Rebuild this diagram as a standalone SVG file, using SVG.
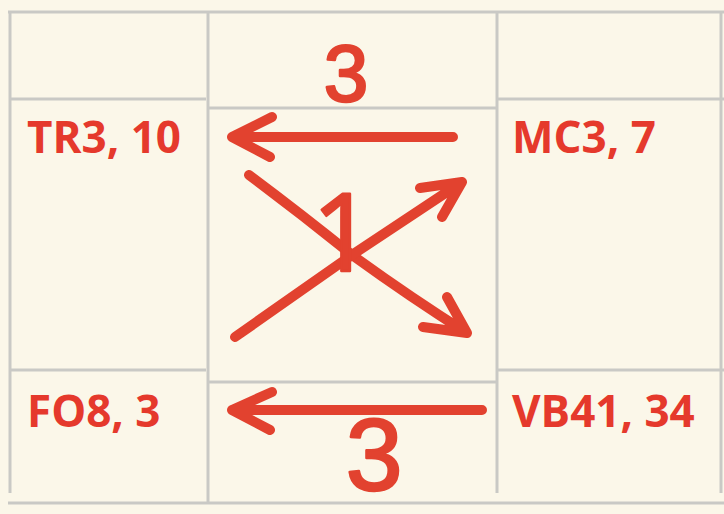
<svg xmlns="http://www.w3.org/2000/svg" width="724" height="514" viewBox="0 0 724 514">
  <style>
    .grid { stroke: #C9C9C5; stroke-width: 3; fill: none; }
    .lbl { font-family: "Open Sans", "Liberation Sans", sans-serif; font-weight: 700; font-size: 44px; fill: #E5392C; }
    .hand { font-family: "Liberation Sans", Arial, sans-serif; font-weight: 400; fill: #E2422F; stroke: #E2422F; stroke-width: 2.5; stroke-linejoin: round; }
    .arr { stroke: #E2422F; stroke-width: 10; fill: none; stroke-linecap: round; stroke-linejoin: round; }
  </style>
  <rect x="0" y="0" width="724" height="514" fill="#FBF7E9"/>

  <g id="grid" class="grid">
    <line x1="8" y1="12" x2="724" y2="12"/>
    <line x1="10" y1="12" x2="10" y2="493"/>
    <line x1="208" y1="12" x2="208" y2="503"/>
    <line x1="497" y1="12" x2="497" y2="493"/>
    <line x1="721" y1="12" x2="721" y2="493"/>
    <line x1="10" y1="99" x2="206" y2="99"/>
    <line x1="10" y1="370" x2="206" y2="370"/>
    <line x1="208" y1="108" x2="497" y2="108"/>
    <line x1="208" y1="382" x2="497" y2="382"/>
    <line x1="497" y1="99" x2="724" y2="99"/>
    <line x1="497" y1="370" x2="724" y2="370"/>
    <line x1="8" y1="503" x2="724" y2="503"/>
  </g>

  <g id="node-tr3">
    <text class="lbl" x="27" y="153">TR3, 10</text>
  </g>
  <g id="node-mc3">
    <text class="lbl" x="512" y="153">MC3, 7</text>
  </g>
  <g id="node-fo8">
    <text class="lbl" x="27" y="427">FO8, 3</text>
  </g>
  <g id="node-vb41">
    <text class="lbl" x="512" y="427">VB41, 34</text>
  </g>

  <g id="connectors">
    <path class="arr" d="M453,137 L232,137 M272,117 L232,137 L270,157"/>
    <path class="arr" d="M249,175 Q300,213 352,255 Q410,297 467,333 M447,297 L467,333 L423,327"/>
    <path class="arr" d="M235,337 L352,255 L462,182 M420,188 L462,182 L442,217"/>
    <path class="arr" d="M482,410 L232,410 M272,392 L232,410 L270,430"/>
    <text class="hand" x="346" y="101" font-size="80" text-anchor="middle">3</text>
    <text class="hand" x="343" y="271" font-size="108" text-anchor="middle" style="font-family:'Open Sans','Liberation Sans',sans-serif">1</text>
    <text class="hand" x="374" y="490" font-size="102" text-anchor="middle">3</text>
  </g>
</svg>
